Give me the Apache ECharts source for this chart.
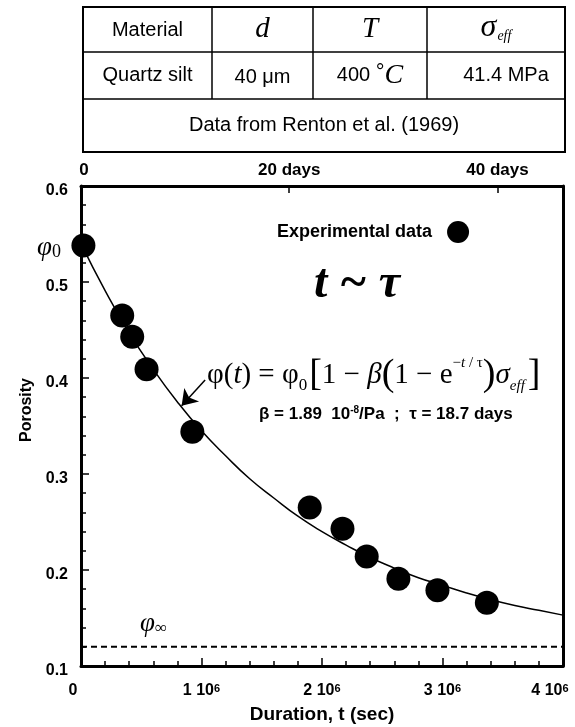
<!DOCTYPE html>
<html>
<head>
<meta charset="utf-8">
<script src="https://cdn.jsdelivr.net/npm/echarts@6/dist/echarts.min.js"></script>
<style>
  html, body { margin: 0; padding: 0; background: #fff; }
  #chart { width: 575px; height: 727px; }
</style>
</head>
<body>
<div id="chart"></div>
<script>
// Compaction of quartz silt, porosity vs duration (Renton et al., 1969)
const SANS = '"Liberation Sans", Arial, Helvetica, sans-serif';
const SERIF = '"Liberation Serif", "Times New Roman", serif';

// measured porosity: [duration (s), porosity]
const experimental = [
  [0.02e6, 0.538],
  [0.342e6, 0.465],
  [0.425e6, 0.443],
  [0.544e6, 0.409],
  [0.924e6, 0.344],
  [1.898e6, 0.265],
  [2.170e6, 0.243],
  [2.371e6, 0.214],
  [2.634e6, 0.191],
  [2.958e6, 0.179],
  [3.368e6, 0.166]
];

// fitted curve phi(t), sampled every 0.2e6 s
const curveTimes = [0, 0.2e6, 0.4e6, 0.6e6, 0.8e6, 1.0e6, 1.2e6, 1.4e6, 1.6e6, 1.8e6, 2.0e6,
                    2.2e6, 2.4e6, 2.6e6, 2.8e6, 3.0e6, 3.2e6, 3.4e6, 3.6e6, 3.8e6, 4.0e6];
const curvePorosity = [0.540, 0.491, 0.447, 0.409, 0.375, 0.345, 0.319, 0.295, 0.275, 0.256, 0.240,
                       0.226, 0.213, 0.202, 0.192, 0.184, 0.176, 0.169, 0.163, 0.158, 0.153];

// asymptotic porosity phi_inf
const phiInf = 0.12;
const phiInfLine = [[0, phiInf], [4e6, phiInf]];

// arrow pointing from the formula to the curve
const arrowFrom = [1.03e6, 0.398];
const arrowTo = [0.835e6, 0.371];

// axis ranges
const tMin = 0, tMax = 4e6, tStep = 1e6;
const poroMin = 0.1, poroMax = 0.6, poroStep = 0.1;
const daySeconds = 86400;
const dayStep = 20;

// parameter table
const tableHeader = ['Material', 'd', 'T', 'σ'];
const tableValues = ['Quartz silt', '40 μm', '400 ', '41.4 MPa'];
const tableSource = 'Data from Renton et al. (1969)';

const chart = echarts.init(document.getElementById('chart'), null, { renderer: 'canvas' });

const tickFont = { fontFamily: SANS, fontWeight: 'bold', fontSize: 16, color: '#000' };
const supFont = { fontFamily: SANS, fontWeight: 'bold', fontSize: 11, color: '#000', verticalAlign: 'top' };

// table geometry (pixels)
const tb = { l: 83, r: 565, t: 7, b: 152, row1: 52, row2: 99, cols: [212, 313, 427] };
const colCenters = [
  (tb.l + tb.cols[0]) / 2, (tb.cols[0] + tb.cols[1]) / 2,
  (tb.cols[1] + tb.cols[2]) / 2, (tb.cols[2] + tb.r) / 2
];
const tableGraphic = [
  { type: 'rect', shape: { x: tb.l, y: tb.t, width: tb.r - tb.l, height: tb.b - tb.t },
    style: { fill: '#fff', stroke: '#000', lineWidth: 2 } },
  { type: 'line', shape: { x1: tb.l, y1: tb.row1, x2: tb.r, y2: tb.row1 }, style: { stroke: '#000', lineWidth: 1.5 } },
  { type: 'line', shape: { x1: tb.l, y1: tb.row2, x2: tb.r, y2: tb.row2 }, style: { stroke: '#000', lineWidth: 1.5 } }
].concat(tb.cols.map(x => ({
  type: 'line', shape: { x1: x, y1: tb.t, x2: x, y2: tb.row2 }, style: { stroke: '#000', lineWidth: 1.5 }
}))).concat([
  { type: 'text', x: colCenters[0], y: (tb.t + tb.row1) / 2 + 1,
    style: { text: tableHeader[0], font: '20px ' + SANS, fill: '#000', align: 'center', verticalAlign: 'middle' } },
  { type: 'text', x: colCenters[1], y: (tb.t + tb.row1) / 2,
    style: { text: tableHeader[1], font: 'italic 29px ' + SERIF, fill: '#000', align: 'center', verticalAlign: 'middle' } },
  { type: 'text', x: colCenters[2], y: (tb.t + tb.row1) / 2,
    style: { text: tableHeader[2], font: 'italic 29px ' + SERIF, fill: '#000', align: 'center', verticalAlign: 'middle' } },
  { type: 'text', x: colCenters[3], y: (tb.t + tb.row1) / 2 - 2,
    style: { text: '{g|' + tableHeader[3] + '}{s|eff}', align: 'center', verticalAlign: 'middle',
      rich: {
        g: { font: 'italic 32px ' + SERIF, fill: '#000', verticalAlign: 'middle' },
        s: { font: 'italic 14px ' + SERIF, fill: '#000', verticalAlign: 'bottom', padding: [0, 0, 0, 1] }
      } } },
  { type: 'text', x: colCenters[0], y: (tb.row1 + tb.row2) / 2,
    style: { text: tableValues[0], font: '20px ' + SANS, fill: '#000', align: 'center', verticalAlign: 'middle' } },
  { type: 'text', x: colCenters[1], y: (tb.row1 + tb.row2) / 2 + 2,
    style: { text: tableValues[1], font: '20px ' + SANS, fill: '#000', align: 'center', verticalAlign: 'middle' } },
  { type: 'text', x: colCenters[2], y: (tb.row1 + tb.row2) / 2,
    style: { text: '{a|' + tableValues[2] + '}{o|°}{c|C}', align: 'center', verticalAlign: 'middle',
      rich: {
        a: { font: '20px ' + SANS, fill: '#000' },
        o: { font: '22px ' + SANS, fill: '#000', verticalAlign: 'top' },
        c: { font: 'italic 28px ' + SERIF, fill: '#000' }
      } } },
  { type: 'text', x: colCenters[3] + 10, y: (tb.row1 + tb.row2) / 2,
    style: { text: tableValues[3], font: '20px ' + SANS, fill: '#000', align: 'center', verticalAlign: 'middle' } },
  { type: 'text', x: (tb.l + tb.r) / 2, y: (tb.row2 + tb.b) / 2,
    style: { text: tableSource, font: '20px ' + SANS, fill: '#000', align: 'center', verticalAlign: 'middle' } }
]);

// annotations inside the plot
const annotationGraphic = [
  { type: 'text', x: 357, y: 285,
    style: { text: 't ~ τ', font: 'italic bold 48px ' + SERIF, fill: '#000', align: 'center', verticalAlign: 'middle' } },
  { type: 'text', x: 207, y: 375,
    style: {
      text: '{t|φ(}{i|t}{t|) = φ}{s|0}{b|[}{t|1 − }{i|β}{b|(}{t|1 − e}{p|−}{q|t}{p| / τ}{b|)}{i|σ}{e|eff}{b|]}',
      align: 'left', verticalAlign: 'middle',
      rich: {
        t: { font: '29px ' + SERIF, fill: '#000' },
        i: { font: 'italic 29px ' + SERIF, fill: '#000' },
        b: { font: '38px ' + SERIF, fill: '#000' },
        s: { font: '17px ' + SERIF, fill: '#000', verticalAlign: 'bottom', padding: [0, 2, 0, 0] },
        e: { font: 'italic 15px ' + SERIF, fill: '#000', verticalAlign: 'bottom', padding: [0, 3, 0, 0] },
        p: { font: '15px ' + SERIF, fill: '#000', verticalAlign: 'top' },
        q: { font: 'italic 15px ' + SERIF, fill: '#000', verticalAlign: 'top' }
      } } },
  { type: 'text', x: 259, y: 414,
    style: {
      text: '{a|β = 1.89  10}{p|-8}{a|/Pa  ;  τ = 18.7 days}',
      align: 'left', verticalAlign: 'middle',
      rich: {
        a: { font: 'bold 17px ' + SANS, fill: '#000' },
        p: { font: 'bold 10px ' + SANS, fill: '#000', verticalAlign: 'top' }
      } } },
  { type: 'text', x: 37, y: 248,
    style: { text: '{f|φ}{s|0}', align: 'left', verticalAlign: 'middle',
      rich: {
        f: { font: 'italic 27px ' + SERIF, fill: '#000' },
        s: { font: '18px ' + SERIF, fill: '#000', verticalAlign: 'bottom' }
      } } },
  { type: 'text', x: 140, y: 624,
    style: { text: '{f|φ}{s|∞}', align: 'left', verticalAlign: 'middle',
      rich: {
        f: { font: 'italic 27px ' + SERIF, fill: '#000' },
        s: { font: '17px ' + SERIF, fill: '#000', verticalAlign: 'bottom' }
      } } },
  { type: 'text', x: 27, y: 410, rotation: Math.PI / 2,
    style: { text: 'Porosity', font: 'bold 16px ' + SANS, fill: '#000', align: 'center', verticalAlign: 'middle' } }
];

// bottom tick labels: "n 10^6"; the end labels sit slightly inward
function secondsLabel(v) {
  if (v === tMin) return '{z|0}';
  const n = v / 1e6;
  return v === tMax ? '{n|' + n + ' 10}{m|6}' : '{n|' + n + ' 10}{s|6}';
}

const option = {
  backgroundColor: '#fff',
  animation: false,
  grid: { left: 81, right: 12, top: 186, bottom: 61, containLabel: false, outerBoundsMode: 'none' },
  legend: {
    data: ['Experimental data'],
    left: 272, top: 216,
    align: 'right',
    itemWidth: 22, itemHeight: 22,
    icon: 'circle',
    itemStyle: { color: '#000', opacity: 1 },
    textStyle: { fontFamily: SANS, fontWeight: 'bold', fontSize: 18, color: '#000', padding: [0, 10, 0, 0] }
  },
  xAxis: [
    {
      type: 'value', position: 'bottom',
      min: tMin, max: tMax, interval: tStep,
      axisLine: { show: true, onZero: false, lineStyle: { color: '#000', width: 3 } },
      axisTick: { show: true, inside: true, length: 8, lineStyle: { color: '#000', width: 1.5 } },
      minorTick: { show: true, splitNumber: 5, length: 5, lineStyle: { color: '#000', width: 1.5 } },
      splitLine: { show: false },
      axisLabel: {
        margin: 17,
        formatter: secondsLabel,
        rich: {
          n: tickFont,
          z: Object.assign({}, tickFont, { padding: [0, 16, 0, 0] }),
          s: supFont,
          m: Object.assign({}, supFont, { padding: [0, 26, 0, 0] })
        }
      },
      name: 'Duration, t (sec)', nameLocation: 'middle', nameGap: 39,
      nameTextStyle: { fontFamily: SANS, fontWeight: 'bold', fontSize: 19, color: '#000' }
    },
    {
      type: 'value', position: 'top',
      min: 0, max: tMax / daySeconds, interval: dayStep,
      axisLine: { show: true, onZero: false, lineStyle: { color: '#000', width: 3 } },
      axisTick: { show: true, inside: true, length: 7, lineStyle: { color: '#000', width: 1.5 } },
      splitLine: { show: false },
      axisLabel: {
        margin: 7,
        formatter: v => v === 0 ? '{z|0}' : (Math.abs(v % dayStep) < 1e-6 ? '{d|' + v + ' days}' : ''),
        rich: {
          d: { fontFamily: SANS, fontWeight: 'bold', fontSize: 17, color: '#000' },
          z: { fontFamily: SANS, fontWeight: 'bold', fontSize: 17, color: '#000', padding: [0, 0, 0, 6] }
        }
      }
    }
  ],
  yAxis: [
    {
      type: 'value', position: 'left',
      min: poroMin, max: poroMax, interval: poroStep,
      axisLine: { show: true, onZero: false, lineStyle: { color: '#000', width: 3 } },
      axisTick: { show: true, inside: true, length: 8, lineStyle: { color: '#000', width: 1.5 } },
      minorTick: { show: true, splitNumber: 5, length: 5, lineStyle: { color: '#000', width: 1.5 } },
      splitLine: { show: false },
      axisLabel: {
        margin: 13,
        formatter: v => '{v|' + v.toFixed(1) + '}',
        rich: {
          v: Object.assign({}, tickFont, { padding: [9, 0, 0, 0] })
        }
      }
    },
    {
      type: 'value', position: 'right',
      min: poroMin, max: poroMax, interval: poroStep,
      axisLine: { show: true, onZero: false, lineStyle: { color: '#000', width: 3 } },
      axisTick: { show: false },
      axisLabel: { show: false },
      splitLine: { show: false }
    }
  ],
  series: [
    {
      name: 'phi(t)', type: 'line',
      data: curveTimes.map((t, i) => [t, curvePorosity[i]]),
      smooth: true, showSymbol: false, symbol: 'none',
      lineStyle: { color: '#000', width: 1.5 },
      z: 3,
      markLine: {
        silent: true,
        symbol: ['none', 'arrow'], symbolSize: 15,
        label: { show: false },
        lineStyle: { color: '#000', width: 1.5, type: 'solid' },
        emphasis: { disabled: true },
        data: [[{ coord: arrowFrom }, { coord: arrowTo }]]
      }
    },
    {
      name: 'phi_inf', type: 'line',
      data: phiInfLine,
      showSymbol: false, symbol: 'none',
      lineStyle: { color: '#000', width: 2, type: [6, 4] },
      z: 2
    },
    {
      name: 'Experimental data', type: 'scatter',
      data: experimental,
      symbol: 'circle', symbolSize: 24,
      itemStyle: { color: '#000', opacity: 1 },
      clip: false,
      z: 4
    }
  ],
  graphic: tableGraphic.concat(annotationGraphic)
};

chart.setOption(option);
</script>
</body>
</html>
